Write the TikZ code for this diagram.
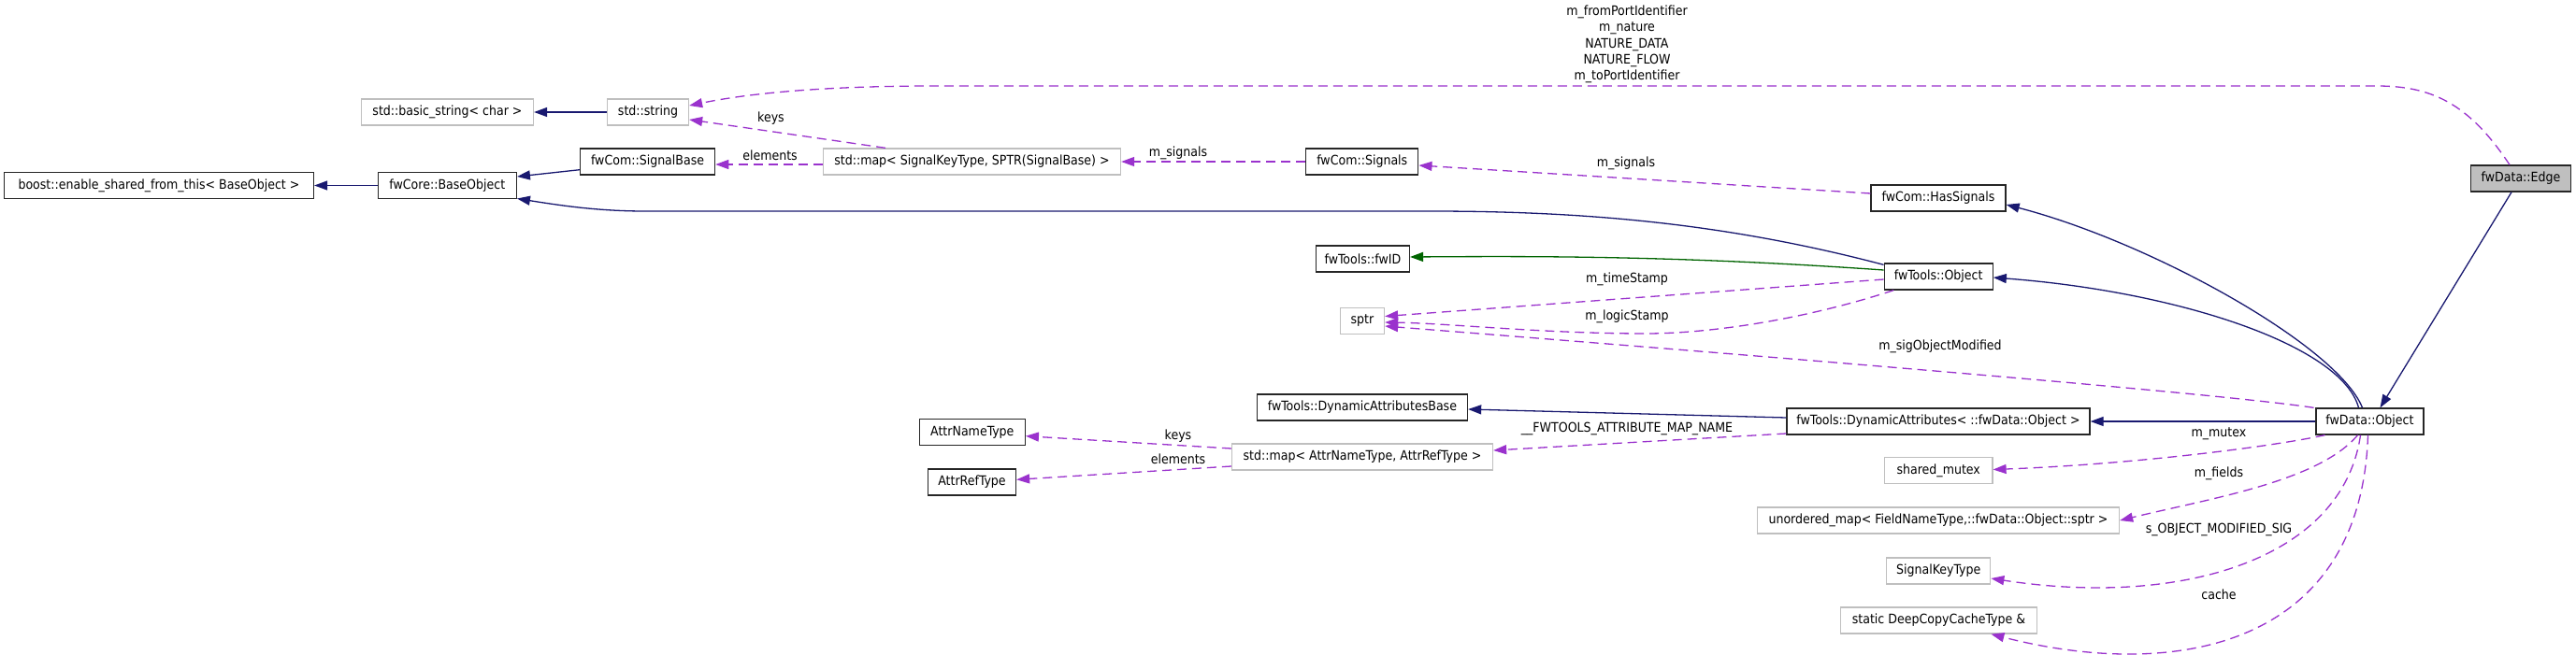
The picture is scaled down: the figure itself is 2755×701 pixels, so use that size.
\documentclass[tikz,border=0pt]{standalone}
\usepackage{fontspec}
\setmainfont{DejaVu Sans Condensed}
\usetikzlibrary{arrows.meta}
\definecolor{grey75}{HTML}{BFBFBF}
\definecolor{mblue}{HTML}{191970}
\definecolor{dgreen}{HTML}{006400}
\definecolor{orchid}{HTML}{9A32CD}
\begin{document}
\begin{tikzpicture}[x=1pt,y=-1pt,
  font=\fontsize{14}{17.4}\selectfont,
  cls/.style={draw=black!85,line width=1.3pt,fill=white,inner sep=0pt,minimum height=28pt},
  ext/.style={draw=grey75,line width=1.3pt,fill=white,inner sep=0pt,minimum height=28pt},
  cur/.style={draw=black!85,line width=1.3pt,fill=grey75,inner sep=0pt,minimum height=28pt},
  inh/.style={draw=mblue,line width=1.3pt,-{Triangle[length=14pt,width=10pt]}},
  inhg/.style={draw=dgreen,line width=1.3pt,-{Triangle[length=14pt,width=10pt]}},
  use/.style={draw=orchid,line width=1.3pt,dash pattern=on 10pt off 6pt,-{Triangle[length=14pt,width=10pt,fill=orchid]}},
  lbl/.style={inner sep=0pt,align=center}]
\useasboundingbox (0,0) rectangle (2755,701);
\fill[white] (0,0) rectangle (2755,701);
% nodes
\node[ext,minimum width=184pt] (basic) at (478.5,120) {std::basic\_string< char >};
\node[ext,minimum width=87pt] (string) at (693,120) {std::string};
\node[cls,minimum width=331pt] (boost) at (170,198.5) {boost::enable\_shared\_from\_this< BaseObject >};
\node[cls,minimum width=148pt] (baseobj) at (478.3,198.5) {fwCore::BaseObject};
\node[cls,minimum width=144pt] (sigbase) at (692.6,173) {fwCom::SignalBase};
\node[ext,minimum width=318pt] (sigmap) at (1039.5,173) {std::map< SignalKeyType, SPTR(SignalBase) >};
\node[cls,minimum width=120pt] (signals) at (1456.8,173) {fwCom::Signals};
\node[cls,minimum width=144pt] (hassig) at (2073,212) {fwCom::HasSignals};
\node[cur,minimum width=107pt] (edge) at (2696,191) {fwData::Edge};
\node[cls,minimum width=100pt] (fwid) at (1457.4,277) {fwTools::fwID};
\node[cls,minimum width=116pt] (toolsobj) at (2073.2,296) {fwTools::Object};
\node[ext,minimum width=47pt] (sptr) at (1457,343.5) {sptr};
\node[cls,minimum width=225pt] (dab) at (1457,436) {fwTools::DynamicAttributesBase};
\node[cls,minimum width=324pt] (da) at (2073,451) {fwTools::DynamicAttributes< ::fwData::Object >};
\node[cls,minimum width=115pt] (dataobj) at (2534.5,451) {fwData::Object};
\node[ext,minimum width=279pt] (attrmap) at (1457,489) {std::map< AttrNameType, AttrRefType >};
\node[cls,minimum width=113pt] (attrname) at (1039.8,462.7) {AttrNameType};
\node[cls,minimum width=94pt] (attrref) at (1039.5,516) {AttrRefType};
\node[ext,minimum width=115.5pt] (mutex) at (2073.2,503.5) {shared\_mutex};
\node[ext,minimum width=387pt] (umap) at (2073,557) {unordered\_map< FieldNameType,::fwData::Object::sptr >};
\node[ext,minimum width=111pt] (sigkey) at (2073.2,611) {SignalKeyType};
\node[ext,minimum width=210.5pt] (cache) at (2073.5,664) {static DeepCopyCacheType \&};
% inheritance
\draw[inh] (string.west) -- (basic.east);
\draw[inh] (baseobj.west) -- (boost.east);
\draw[inh] ([yshift=-8.7pt]sigbase.west) -- ([yshift=9.5pt]baseobj.east);
\draw[inh] ([yshift=-2pt]toolsobj.north west) .. controls (1850,240) and (1700,226) .. (1530,226) -- (690,226) .. controls (640,226) and (600,220) .. ([yshift=-14pt]baseobj.east);
\draw[inhg] ([yshift=7pt]toolsobj.west) .. controls (1800,274) and (1650,274) .. ([yshift=2pt]fwid.east);
\draw[inh] ([yshift=4pt]da.west) -- ([yshift=-2pt]dab.east);
\draw[inh] ([xshift=-8pt]dataobj.north) .. controls (2500,370) and (2300,259) .. ([yshift=-7pt]hassig.east);
\draw[inh] ([xshift=-12pt]dataobj.north) .. controls (2505,370) and (2330,312) .. ([yshift=-1pt]toolsobj.east);
\draw[inh] ([xshift=-10pt]edge.south) -- ([xshift=11pt]dataobj.north);
\draw[inh] (dataobj.west) -- (da.east);
% usage
\draw[use] ([xshift=-12pt]edge.north) .. controls (2640,110) and (2600,92) .. (2542,92) -- (1000,92) .. controls (880,92) and (800,100) .. ([yshift=7pt]string.east);
\node[lbl] (l1) at (1740,47.5) {m\_fromPortIdentifier\\m\_nature\\NATURE\_DATA\\NATURE\_FLOW\\m\_toPortIdentifier};
\draw[use] ([xshift=-92.5pt]sigmap.north) -- ([yshift=-8pt]string.east);
\node[lbl] (l2) at (824.5,126.7) {keys};
\draw[use] ([yshift=-3pt]sigmap.west) -- ([yshift=-3pt]sigbase.east);
\node[lbl] (l3) at (823.5,166.7) {elements};
\draw[use] (signals.west) -- (sigmap.east);
\node[lbl] (l4) at (1260,164) {m\_signals};
\draw[use] ([yshift=5pt]hassig.west) -- ([yshift=-4pt]signals.east);
\node[lbl] (l5) at (1739,174.7) {m\_signals};
\draw[use] ([yshift=-3pt]toolsobj.west) -- ([yshift=5pt]sptr.east);
\node[lbl] (l6) at (1740,299) {m\_timeStamp};
\draw[use] ([xshift=-48pt]toolsobj.south) .. controls (1920,345) and (1820,357) .. (1760,357) .. controls (1650,357) and (1550,346) .. ([yshift=-1.5pt]sptr.east);
\node[lbl] (l7) at (1740,338.7) {m\_logicStamp};
\draw[use] ([xshift=-60pt]dataobj.north) .. controls (2400,425) and (2100,398) .. ([yshift=-5.5pt]sptr.east);
\node[lbl] (l8) at (2075,370.7) {m\_sigObjectModified};
\draw[use] ([yshift=-13pt]da.west) -- ([yshift=7pt]attrmap.east);
\node[lbl] (l9) at (1740,458.7) {\_\_FWTOOLS\_ATTRIBUTE\_MAP\_NAME};
\draw[use] ([yshift=9pt]attrmap.west) -- ([yshift=-4pt]attrname.east);
\node[lbl] (l10) at (1260,466.7) {keys};
\draw[use] ([yshift=-10pt]attrmap.west) -- ([yshift=2.7pt]attrref.east);
\node[lbl] (l11) at (1260,491.7) {elements};
\draw[use] ([xshift=-48pt]dataobj.south) .. controls (2430,478) and (2280,497) .. ([yshift=1pt]mutex.east);
\node[lbl] (l12) at (2373,464) {m\_mutex};
\draw[use] ([xshift=-13pt]dataobj.south) .. controls (2480,515) and (2366,533) .. (umap.east);
\node[lbl] (l13) at (2373,506.7) {m\_fields};
\draw[use] ([xshift=-10pt]dataobj.south) .. controls (2505,600) and (2330,650) .. ([yshift=-8pt]sigkey.east);
\node[lbl] (l14) at (2373,567.3) {s\_OBJECT\_MODIFIED\_SIG};
\draw[use] ([xshift=-2pt]dataobj.south) .. controls (2525,690) and (2330,730) .. ([xshift=-50pt]cache.south east);
\node[lbl] (l15) at (2373,636.7) {cache};
\end{tikzpicture}
\end{document}
